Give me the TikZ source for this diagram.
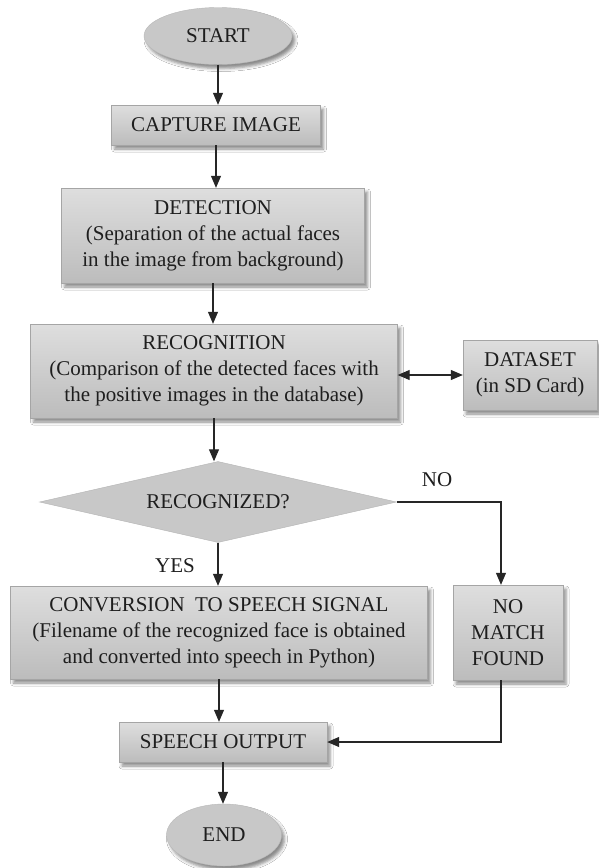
\documentclass[tikz,border=0pt]{standalone}
\usepackage{fontspec}
\setmainfont{Liberation Serif}
\usetikzlibrary{shapes.geometric,arrows.meta,shadows.blur}
\definecolor{boxtop}{RGB}{222,222,222}
\definecolor{boxbot}{RGB}{188,188,188}
\definecolor{boxline}{RGB}{165,165,165}
\definecolor{termfill}{RGB}{200,200,200}
\definecolor{textcol}{RGB}{30,30,30}

\begin{document}
\begin{tikzpicture}[x=1pt,y=-1pt,font=\fontsize{21}{26}\selectfont,
  shade/.style={blur shadow={shadow xshift=3pt,shadow yshift=-4pt,shadow blur radius=3pt,shadow opacity=45}},
  box/.style={rectangle,draw=boxline,top color=boxtop,bottom color=boxbot,align=center,inner sep=0pt,text=textcol,shade},
  term/.style={ellipse,draw=termfill!92!black,fill=termfill,inner sep=0pt,text=textcol,shade},
  decide/.style={diamond,aspect=4.4,draw=termfill!90!black,fill=termfill,inner sep=0pt,text=textcol},
  line/.style={draw=black!85,line width=1.1pt,-{Triangle[width=10pt,length=12pt]}}]
\path[use as bounding box,fill=white] (0,0) rectangle (599,868);
\node [term,minimum width=148pt,minimum height=57pt] (start) at (218,36) {START};
\node [box,minimum width=209pt,minimum height=40pt] (capture) at (216,125) {CAPTURE IMAGE};
\node [box,minimum width=303pt,minimum height=95pt] (detect) at (213,235.5)
  {DETECTION\\(Separation of the actual faces\\in the image from background)};
\node [box,minimum width=367pt,minimum height=94pt] (recog) at (214,371)
  {RECOGNITION\\(Comparison of the detected faces with\\the positive images in the database)};
\node [box,minimum width=134pt,minimum height=70pt] (dataset) at (530,375) {DATASET\\(in SD Card)};
\node [decide,minimum width=357pt,minimum height=81pt] (recognized) at (218,502) {RECOGNIZED?};
\node [box,minimum width=417pt,minimum height=93pt] (convert) at (219,632.5)
  {CONVERSION\ \ TO SPEECH SIGNAL\\(Filename of the recognized face is obtained\\and converted into speech in Python)};
\node [box,minimum width=110pt,minimum height=95pt] (nomatch) at (508,632.5) {NO\\MATCH\\FOUND};
\node [box,minimum width=208pt,minimum height=40pt] (speech) at (223,742) {SPEECH OUTPUT};
\node [term,minimum width=115pt,minimum height=62pt] (end) at (224,835) {END};
\node [text=textcol] (no) at (437,480) {NO};
\node [text=textcol] (yes) at (175,566) {YES};
\draw [line] (start.south) -- (start.south |- capture.north);
\draw [line] (capture.south) -- (capture.south |- detect.north);
\draw [line] (detect.south) -- (detect.south |- recog.north);
\draw [line,{Triangle[width=10pt,length=12pt]}-{Triangle[width=10pt,length=12pt]}] (recog.east |- dataset.west) -- (dataset.west);
\draw [line] (recog.south) -- (recog.south |- recognized.north);
\draw [line] (recognized.south) -- (recognized.south |- convert.north);
\draw [line] (recognized.east) -| ([xshift=-7pt]nomatch.north);
\draw [line] (convert.south) -- (convert.south |- speech.north);
\draw [line] ([xshift=-7pt]nomatch.south) |- (speech.east);
\draw [line] (speech.south) -- (speech.south |- end.north);
\end{tikzpicture}
\end{document}
